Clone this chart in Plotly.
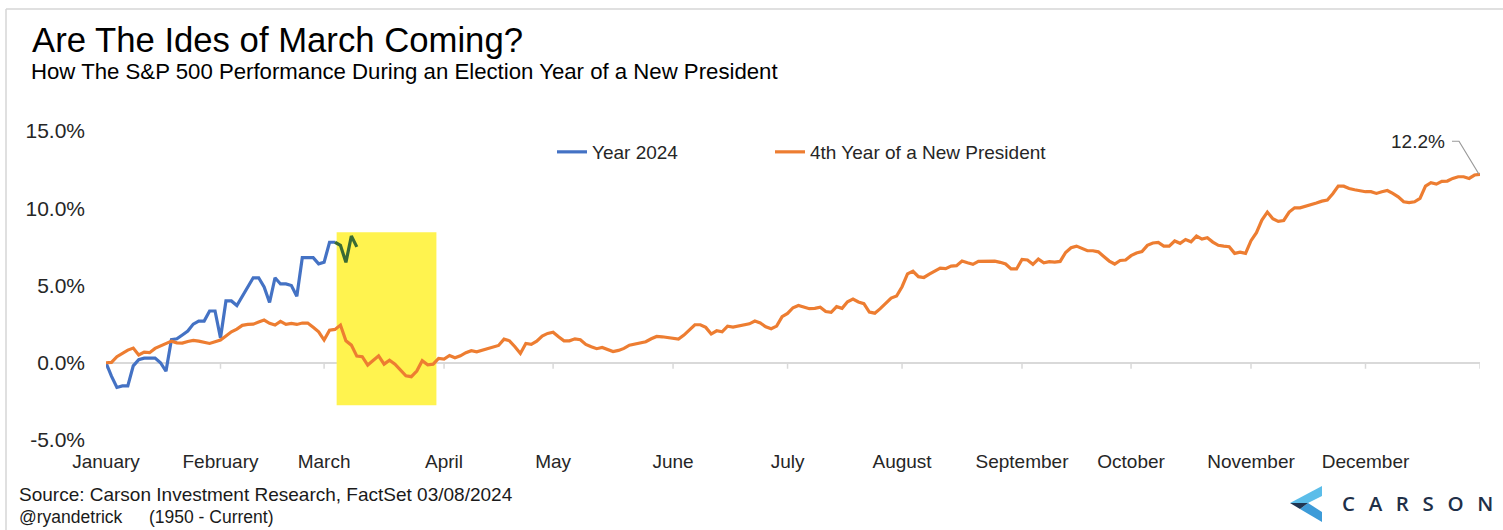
import plotly.graph_objects as go

# ---------------- data ----------------
MONTHS = ["January", "February", "March", "April", "May", "June", "July",
          "August", "September", "October", "November", "December"]
MONTH_START = [0, 21, 40, 62, 82, 104, 125, 146, 168, 188, 210, 231]   # trading-day index
YEAR_END = 252

# 4th Year of a New President (avg. cumulative % by trading day)
ORANGE = [
    0.0, 0.02, 0.39, 0.58, 0.82, 0.95, 0.5, 0.69, 0.65, 0.93,
    1.1, 1.23, 1.4, 1.29, 1.27, 1.38, 1.45, 1.4, 1.32, 1.25,
    1.36, 1.47, 1.73, 2.0, 2.18, 2.42, 2.48, 2.5, 2.63, 2.76,
    2.55, 2.44, 2.68, 2.48, 2.55, 2.48, 2.57, 2.57, 2.29, 2.0,
    1.47, 2.11, 2.16, 2.44, 1.42, 1.14, 0.43, 0.39, -0.15, 0.17,
    0.45, -0.09, 0.17, -0.09, -0.47, -0.84, -0.9, -0.54, 0.13, -0.13,
    -0.09, 0.28, 0.24, 0.47, 0.32, 0.45, 0.65, 0.78, 0.71, 0.82,
    0.93, 1.04, 1.12, 1.53, 1.42, 1.04, 0.6, 1.25, 1.19, 1.4,
    1.73, 1.9, 1.98, 1.68, 1.42, 1.42, 1.55, 1.49, 1.19, 1.04,
    0.91, 0.99, 0.86, 0.73, 0.8, 0.93, 1.14, 1.21, 1.25, 1.36,
    1.55, 1.7, 1.68, 1.62, 1.57, 1.53, 1.79, 2.16, 2.46, 2.46,
    2.29, 1.86, 2.07, 2.0, 2.37, 2.31, 2.37, 2.46, 2.52, 2.7,
    2.57, 2.33, 2.2, 2.37, 2.98, 3.19, 3.56, 3.71, 3.63, 3.5,
    3.52, 3.6, 3.32, 3.26, 3.63, 3.52, 3.95, 4.12, 3.93, 3.82,
    3.28, 3.21, 3.5, 3.82, 4.19, 4.32, 4.92, 5.75, 5.92, 5.57,
    5.52, 5.74, 5.96, 6.13, 6.09, 6.26, 6.28, 6.58, 6.47, 6.37,
    6.56, 6.58, 6.56, 6.58, 6.5, 6.39, 6.07, 6.07, 6.69, 6.65,
    6.37, 6.71, 6.47, 6.54, 6.52, 6.56, 7.14, 7.44, 7.55, 7.4,
    7.25, 7.25, 7.18, 6.88, 6.58, 6.39, 6.62, 6.65, 6.93, 7.1,
    7.2, 7.6, 7.75, 7.79, 7.55, 7.55, 7.88, 7.73, 7.98, 7.83,
    8.2, 8.0, 8.09, 7.81, 7.6, 7.55, 7.51, 7.08, 7.16, 7.08,
    7.9, 8.42, 9.23, 9.75, 9.32, 9.15, 9.21, 9.75, 10.03, 10.03,
    10.12, 10.23, 10.34, 10.46, 10.53, 10.94, 11.43, 11.43, 11.28, 11.2,
    11.13, 11.07, 11.07, 10.96, 11.07, 11.15, 10.96, 10.74, 10.42, 10.36,
    10.42, 10.64, 11.43, 11.65, 11.56, 11.74, 11.76, 11.93, 12.04, 12.04,
    11.93, 12.15, 12.2,
]

# Year 2024 (cumulative %), through Mar 1
BLUE_2024 = [
    0.0, -0.87, -1.6, -1.5, -1.5, -0.2, 0.2, 0.3, 0.3, 0.3,
    0.0, -0.55, 1.5, 1.55, 1.8, 2.05, 2.5, 2.7, 2.7, 3.35,
    3.35, 1.6, 4.0, 4.0, 3.7, 4.3, 4.9, 5.5, 5.5, 4.9,
    3.9, 5.5, 5.1, 5.1, 5.0, 4.3, 6.8, 6.8, 6.8, 6.4,
    6.5, 7.8, 7.8,
]
# Year 2024, March days (highlighted in green)
GREEN_START = 42
GREEN_2024 = [7.8, 7.6, 6.5, 8.2, 7.5]

HIGHLIGHT_X = [42.3, 60.6]     # "Ides of March" window (trading-day index)
HIGHLIGHT_Y = [-2.75, 8.45]

Y_TICKS = [-5, 0, 5, 10, 15]

# ---------------- styling ----------------
FONT = "Liberation Sans, Arial, sans-serif"
ORANGE_C = "#ED7D31"
BLUE_C = "#4472C4"
GREEN_C = "#3A6B35"

W, H = 1503, 530
ML, MR, MT, MB = 106, 23, 131, 90
PW, PH = W - ML - MR, H - MT - MB


def px(xp):
    return (xp - ML) / PW


def py(yp):
    return (H - MB - yp) / PH


fig = go.Figure()

fig.add_trace(go.Scatter(
    x=list(range(len(BLUE_2024))), y=BLUE_2024, mode="lines", name="Year 2024",
    line=dict(color=BLUE_C, width=3.2), hoverinfo="skip", legend="legend"))
fig.add_trace(go.Scatter(
    x=list(range(len(ORANGE))), y=ORANGE, mode="lines", name="4th Year of a New President",
    line=dict(color=ORANGE_C, width=3.2), hoverinfo="skip", legend="legend2"))
fig.add_trace(go.Scatter(
    x=list(range(GREEN_START, GREEN_START + len(GREEN_2024))), y=GREEN_2024, mode="lines",
    showlegend=False, line=dict(color=GREEN_C, width=3.2), hoverinfo="skip"))

shapes = []
# yellow highlight
shapes.append(dict(type="rect", xref="x", yref="y", x0=HIGHLIGHT_X[0], x1=HIGHLIGHT_X[1],
                   y0=HIGHLIGHT_Y[0], y1=HIGHLIGHT_Y[1], fillcolor="#FFF34F",
                   line=dict(width=0), layer="between"))
# tick marks hanging from the zero line
for t in MONTH_START + [YEAR_END]:
    shapes.append(dict(type="line", xref="x", yref="y", ysizemode="pixel", yanchor=0,
                       x0=t, x1=t, y0=0, y1=-6, line=dict(color="#d9d9d9", width=1.5),
                       layer="between"))
# leader line for end label
last_i = len(ORANGE) - 1
shapes.append(dict(type="path", xref="x", yref="y", xsizemode="pixel", ysizemode="pixel",
                   xanchor=last_i, yanchor=ORANGE[-1],
                   path="M-1,0 L-21,33 L-28,33", line=dict(color="#9a9a9a", width=1.2)))
# frame lines (top & left)
shapes.append(dict(type="line", xref="paper", yref="paper", x0=px(6), x1=px(W), y0=py(9), y1=py(9),
                   line=dict(color="#d6d6d6", width=1.5)))
shapes.append(dict(type="line", xref="paper", yref="paper", x0=px(6), x1=px(6), y0=py(9), y1=py(H),
                   line=dict(color="#d6d6d6", width=1.5)))
# Carson logo chevron
lx, ly = px(1290), py(504)
for path, col in [
    ("M0,1 L32,18 L32,8 L18,1 Z", "#5BBDE9"),
    ("M10,-5 L18,1 L32,-8 L32,-18 Z", "#3D9BD8"),
    ("M0,1 L18,1 L10,-5 Z", "#1F3552"),
]:
    shapes.append(dict(type="path", xref="paper", yref="paper", xsizemode="pixel",
                       ysizemode="pixel", xanchor=lx, yanchor=ly, path=path,
                       fillcolor=col, line=dict(width=0)))

annotations = [
    dict(text="How The S&P 500 Performance During an Election Year of a New President",
         xref="paper", yref="paper", x=px(29), y=py(71), xanchor="left", yanchor="middle",
         showarrow=False, font=dict(family=FONT, size=22.2, color="#000000")),
    dict(text=f"{ORANGE[-1]:.1f}%", xref="x", yref="y", x=last_i, y=ORANGE[-1],
         xanchor="right", yanchor="middle", xshift=-33, yshift=33, showarrow=False,
         font=dict(family=FONT, size=19, color="#262626")),
    dict(text="Source: Carson Investment Research, FactSet 03/08/2024",
         xref="paper", yref="paper", x=px(17), y=py(494), xanchor="left", yanchor="middle",
         showarrow=False, font=dict(family=FONT, size=19, color="#1a1a1a")),
    dict(text="@ryandetrick", xref="paper", yref="paper", x=px(17), y=py(517),
         xanchor="left", yanchor="middle", showarrow=False,
         font=dict(family=FONT, size=17.5, color="#1a1a1a")),
    dict(text="(1950 - Current)", xref="paper", yref="paper", x=px(147), y=py(517),
         xanchor="left", yanchor="middle", showarrow=False,
         font=dict(family=FONT, size=17.5, color="#1a1a1a")),
    dict(text="\u2002\u2009".join("CARSON"), xref="paper", yref="paper",
         x=px(1340), y=py(503), xanchor="left", yanchor="middle", showarrow=False,
         font=dict(family="Open Sans, sans-serif", size=20.5, color="#1F3049", weight=600)),
]

legend_common = dict(orientation="h", yanchor="middle", xanchor="left",
                     font=dict(family=FONT, size=19, color="#262626"),
                     bgcolor="rgba(0,0,0,0)")

fig.update_layout(
    width=W, height=H, autosize=False,
    margin=dict(l=ML, r=MR, t=MT, b=MB),
    paper_bgcolor="white", plot_bgcolor="white",
    font=dict(family=FONT, color="#262626"),
    title=dict(text="Are The Ides of March Coming?", xref="container", yref="container",
               x=32 / W, y=1 - 40 / H, xanchor="left", yanchor="middle",
               font=dict(family=FONT, size=34.7, color="#000000")),
    xaxis=dict(range=[0, YEAR_END], showgrid=False, zeroline=False, showline=False,
               tickvals=MONTH_START, ticktext=MONTHS, ticks="",
               tickfont=dict(size=19, color="#262626"), ticklabelstandoff=8),
    yaxis=dict(range=[Y_TICKS[0], Y_TICKS[-1]], showgrid=False, showline=False,
               zeroline=True, zerolinecolor="#d9d9d9", zerolinewidth=1.5,
               tickvals=Y_TICKS, ticktext=[f"{v:.1f}%" for v in Y_TICKS], ticks="",
               tickfont=dict(size=21, color="#262626"), ticklabelstandoff=20),
    legend=dict(x=px(552), y=py(152), **legend_common),
    legend2=dict(x=px(770), y=py(152), **legend_common),
    shapes=shapes,
    annotations=annotations,
)

fig.write_html("out.html", config={"displayModeBar": False},
               post_script="document.body.style.margin='0';")
